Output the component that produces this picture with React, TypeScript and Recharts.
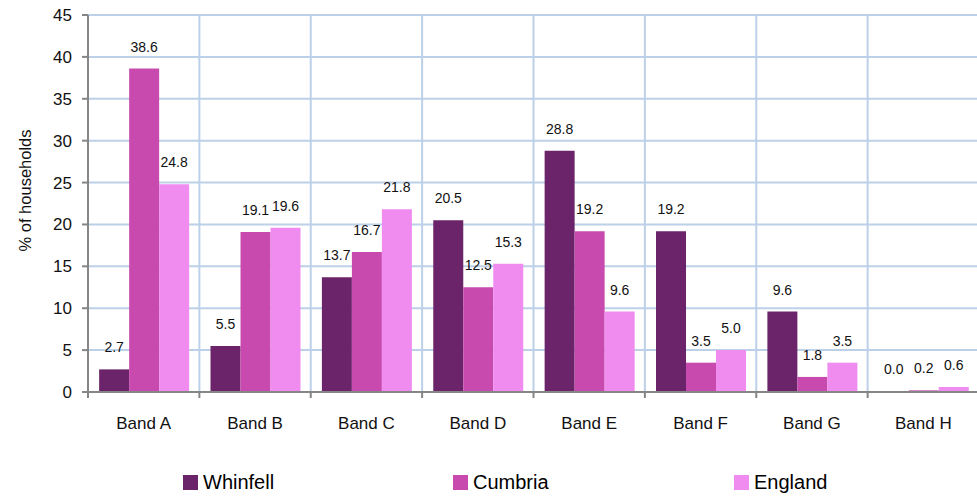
import { Bar, BarChart, CartesianGrid, LabelList, Legend, XAxis, YAxis } from 'recharts'

const bands = ['Band A', 'Band B', 'Band C', 'Band D', 'Band E', 'Band F', 'Band G', 'Band H']
const seriesNames = ['Whinfell', 'Cumbria', 'England']
const whinfell = [2.7, 5.5, 13.7, 20.5, 28.8, 19.2, 9.6, 0.0]
const cumbria = [38.6, 19.1, 16.7, 12.5, 19.2, 3.5, 1.8, 0.2]
const england = [24.8, 19.6, 21.8, 15.3, 9.6, 5.0, 3.5, 0.6]
const yTicks = [0, 5, 10, 15, 20, 25, 30, 35, 40, 45]

const data = bands.map((band, i) => ({
  band,
  Whinfell: whinfell[i],
  Cumbria: cumbria[i],
  England: england[i],
}))

const FONT = '"Liberation Sans", Arial, sans-serif'
const W = 979
const H = 496
const margin = { top: 15, right: 0, left: 0, bottom: 64 }
const Y_AXIS_W = 88
const AXIS_GRAY = '#868686'
const GRID_BLUE = '#BCD0E8'
const bandWidth = (W - margin.left - margin.right - Y_AXIS_W) / bands.length

// x tick: label centred in the band, tick mark on the band's left boundary
function BandTick(props: any) {
  const { x, y, payload, index } = props
  const left = x - bandWidth / 2
  return (
    <g>
      <line x1={left} y1={y} x2={left} y2={y + 6} stroke={AXIS_GRAY} strokeWidth={2} />
      {index === bands.length - 1 && (
        <line x1={left + bandWidth} y1={y} x2={left + bandWidth} y2={y + 6} stroke={AXIS_GRAY} strokeWidth={2} />
      )}
      <text x={x} y={y + 37} textAnchor="middle" fontSize={17} fill="#111" fontFamily={FONT}>
        {payload.value}
      </text>
    </g>
  )
}

function YLabel(props: any) {
  const vb = props.viewBox || { x: 0, y: margin.top, width: Y_AXIS_W, height: 377 }
  const cx = vb.x + 25
  const cy = vb.y + vb.height / 2 - 13
  return (
    <text
      x={cx}
      y={cy}
      transform={`rotate(-90, ${cx}, ${cy})`}
      textAnchor="middle"
      dominantBaseline="central"
      fontSize={16.5}
      fill="#111"
      fontFamily={FONT}
    >
      % of households
    </text>
  )
}

const legendWidths = [270, 281, 200]

function LegendContent(props: any) {
  const items = [...(props.payload || [])].sort(
    (a: any, b: any) => seriesNames.indexOf(a.value) - seriesNames.indexOf(b.value)
  )
  return (
    <div style={{ display: 'flex', fontFamily: FONT, fontSize: 20, color: '#000' }}>
      {items.map((item: any, i: number) => (
        <div key={item.value} style={{ display: 'flex', alignItems: 'center', width: legendWidths[i] }}>
          <span style={{ display: 'inline-block', width: 15, height: 15, background: item.color, marginRight: 5 }} />
          <span>{item.value}</span>
        </div>
      ))}
    </div>
  )
}

const fmt = (v: any) => Number(v).toFixed(1)

export default function App() {
  return (
    <div style={{ position: 'absolute', left: 0, top: 0, width: 977, height: 496, overflow: 'hidden', background: '#fff' }}>
      <BarChart
        width={W}
        height={H}
        data={data}
        margin={margin}
        barCategoryGap="10%"
        barGap={0}
      >
        <CartesianGrid
          stroke={GRID_BLUE}
          strokeWidth={2}
          verticalCoordinatesGenerator={({ offset }: any) => {
            const left = offset?.left ?? Y_AXIS_W
            const w = offset?.width ?? W - Y_AXIS_W
            return bands.map((_, i) => left + ((i + 1) * w) / bands.length)
          }}
        />
        <XAxis
          dataKey="band"
          tickLine={false}
          axisLine={{ stroke: AXIS_GRAY, strokeWidth: 2 }}
          tickSize={0}
          tickMargin={0}
          height={40}
          interval={0}
          tick={<BandTick />}
        />
        <YAxis
          width={Y_AXIS_W}
          domain={[0, 45]}
          ticks={yTicks}
          interval={0}
          axisLine={{ stroke: AXIS_GRAY, strokeWidth: 2 }}
          tickLine={{ stroke: AXIS_GRAY, strokeWidth: 2 }}
          tickSize={6}
          tickMargin={10}
          tick={{ fontSize: 17, fill: '#111', fontFamily: FONT }}
          label={<YLabel />}
        />
        <Legend
          verticalAlign="middle"
          align="center"
          layout="horizontal"
          itemSorter={null as any}
          wrapperStyle={{ top: 471, left: 183, width: 'auto' }}
          content={<LegendContent />}
        />
        <Bar dataKey="Whinfell" fill="#6B2369" minPointSize={1} isAnimationActive={false}>
          <LabelList dataKey="Whinfell" position="top" offset={17} fontSize={14} fill="#111" fontFamily={FONT} formatter={fmt} />
        </Bar>
        <Bar dataKey="Cumbria" fill="#C84AAE" isAnimationActive={false}>
          <LabelList dataKey="Cumbria" position="top" offset={17} fontSize={14} fill="#111" fontFamily={FONT} formatter={fmt} />
        </Bar>
        <Bar dataKey="England" fill="#F08BEF" isAnimationActive={false}>
          <LabelList dataKey="England" position="top" offset={17} fontSize={14} fill="#111" fontFamily={FONT} formatter={fmt} />
        </Bar>
      </BarChart>
    </div>
  )
}
